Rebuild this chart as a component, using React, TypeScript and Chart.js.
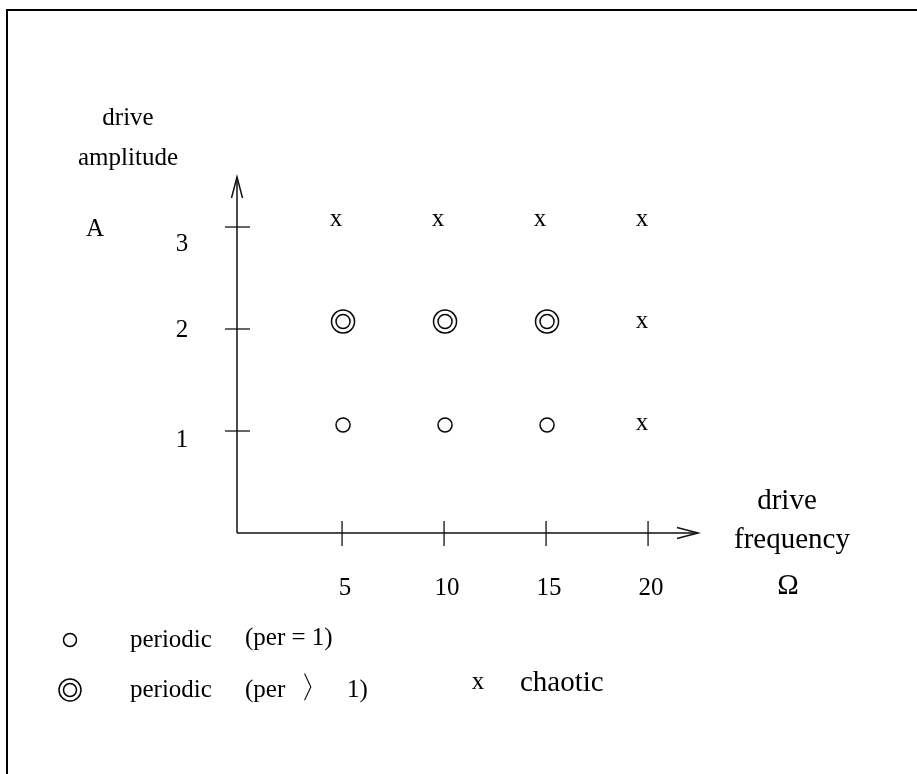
import React, { useEffect, useRef } from "react";
import { Chart, registerables } from "chart.js";

Chart.register(...registerables);

// Parameter grid: drive frequency (Ω) against drive amplitude (A)
const frequencyTicks = [5, 10, 15, 20];
const amplitudeTicks = [1, 2, 3];

const periodOneFreq = [5, 10, 15];
const periodOneAmp = [1, 1, 1];

const periodManyFreq = [5, 10, 15];
const periodManyAmp = [2, 2, 2];

const chaoticFreq = [5, 10, 15, 20, 20, 20];
const chaoticAmp = [3, 3, 3, 3, 2, 1];

const yTitle = ["drive", "amplitude"];
const ySymbol = "A";
const xTitle = ["drive", "frequency", "Ω"];
const seriesLabels = ["periodic", "periodic", "chaotic"];
const periodOneNote = "(per = 1)";
const periodManyNote = ["(per", "〉", "1)"];
const chaoticGlyph = "x";

const FONT = '25px "Liberation Serif", "Times New Roman", serif';
const BIG_FONT = '29px "Liberation Serif", "Times New Roman", serif';
const INK = "#000";

function ring(ctx: CanvasRenderingContext2D, x: number, y: number, r: number) {
  ctx.beginPath();
  ctx.arc(x, y, r, 0, Math.PI * 2);
  ctx.lineWidth = 1.5;
  ctx.strokeStyle = INK;
  ctx.stroke();
}

// Point-style sprites; the glyph sits a little above/left of the grid node
function sprite(dx: number, dy: number, draw: (ctx: CanvasRenderingContext2D) => void) {
  const c = document.createElement("canvas");
  c.width = 48;
  c.height = 48;
  const ctx = c.getContext("2d")!;
  ctx.translate(24 + dx, 24 + dy);
  draw(ctx);
  return c;
}

function drawCross(ctx: CanvasRenderingContext2D, x: number, y: number) {
  ctx.save();
  ctx.font = FONT;
  ctx.fillStyle = INK;
  ctx.textAlign = "center";
  ctx.textBaseline = "alphabetic";
  ctx.fillText(chaoticGlyph, x, y + 5.5);
  ctx.restore();
}

const schematic = {
  id: "schematic",
  afterDraw(chart: Chart) {
    const ctx = chart.ctx;
    const xs = chart.scales.x;
    const ys = chart.scales.y;
    const { left, right, top, bottom } = chart.chartArea;
    ctx.save();

    // frame
    ctx.strokeStyle = INK;
    ctx.lineWidth = 2;
    ctx.beginPath();
    ctx.moveTo(7, chart.height);
    ctx.lineTo(7, 10);
    ctx.lineTo(chart.width, 10);
    ctx.stroke();

    // axes with open arrowheads
    ctx.lineWidth = 1.5;
    ctx.strokeStyle = "#111";
    ctx.beginPath();
    ctx.moveTo(left, bottom);
    ctx.lineTo(left, top + 1);
    ctx.moveTo(left, bottom);
    ctx.lineTo(right + 2, bottom);
    ctx.stroke();
    ctx.beginPath();
    ctx.moveTo(left - 5.5, top + 22);
    ctx.lineTo(left, top + 1);
    ctx.lineTo(left + 5.5, top + 22);
    ctx.moveTo(right - 19, bottom - 5.5);
    ctx.lineTo(right + 2, bottom);
    ctx.lineTo(right - 19, bottom + 5.5);
    ctx.stroke();

    // tick marks and labels (labels hang just below their ticks)
    const labelDrop = [9, 1, 17];
    ctx.font = FONT;
    ctx.fillStyle = INK;
    ctx.textAlign = "center";
    ctx.textBaseline = "middle";
    ctx.lineWidth = 1.3;
    amplitudeTicks.forEach((t, i) => {
      const y = ys.getPixelForValue(t);
      ctx.beginPath();
      ctx.moveTo(left - 12, y);
      ctx.lineTo(left + 13, y);
      ctx.stroke();
      ctx.fillText(String(t), left - 55, y + labelDrop[i]);
    });
    frequencyTicks.forEach((t) => {
      const x = xs.getPixelForValue(t);
      ctx.beginPath();
      ctx.moveTo(x, bottom - 12);
      ctx.lineTo(x, bottom + 13);
      ctx.stroke();
      ctx.fillText(String(t), x + 3, bottom + 55);
    });

    // axis titles
    ctx.textBaseline = "alphabetic";
    ctx.fillText(yTitle[0], 128, 125);
    ctx.fillText(yTitle[1], 128, 165);
    ctx.fillText(ySymbol, 95, 236);
    ctx.font = BIG_FONT;
    ctx.fillText(xTitle[0], 787, 509);
    ctx.fillText(xTitle[1], 792, 548);
    ctx.fillText(xTitle[2], 788, 594);
    ctx.font = FONT;

    // key
    ring(ctx, 70, 640, 6.5);
    ring(ctx, 70, 690, 11);
    ring(ctx, 70, 690, 6.5);
    ctx.textAlign = "left";
    ctx.fillText(seriesLabels[0], 130, 647);
    ctx.fillText(periodOneNote, 245, 645);

    ctx.fillText(seriesLabels[1], 130, 697);
    ctx.fillText(periodManyNote[0], 245, 697);
    ctx.textAlign = "center";
    ctx.font = '31px "Liberation Serif", "DejaVu Serif", serif';
    ctx.fillText(periodManyNote[1], 315, 698);
    ctx.font = FONT;
    ctx.textAlign = "left";
    ctx.fillText(periodManyNote[2], 347, 697);

    drawCross(ctx, 478, 683);
    ctx.textAlign = "left";
    ctx.font = BIG_FONT;
    ctx.fillText(seriesLabels[2], 520, 691);

    ctx.restore();
  },
};

export default function App() {
  const ref = useRef<HTMLCanvasElement>(null);

  useEffect(() => {
    const single = sprite(1, -6, (c) => ring(c, 0, 0, 7));
    const double = sprite(1, -7.5, (c) => {
      ring(c, 0, 0, 11.5);
      ring(c, 0, 0, 7);
    });
    const cross = sprite(-6, -7, (c) => drawCross(c, 0, 0));

    const toPoints = (xs: number[], ys: number[]) => xs.map((x, i) => ({ x, y: ys[i] }));

    const chart = new Chart(ref.current!, {
      type: "scatter",
      data: {
        datasets: [
          { label: "periodic (per = 1)", data: toPoints(periodOneFreq, periodOneAmp), pointStyle: single, pointRadius: 10 },
          { label: "periodic (per > 1)", data: toPoints(periodManyFreq, periodManyAmp), pointStyle: double, pointRadius: 10 },
          { label: "chaotic", data: toPoints(chaoticFreq, chaoticAmp), pointStyle: cross, pointRadius: 10 },
        ],
      },
      options: {
        responsive: false,
        animation: false,
        devicePixelRatio: 1,
        events: [],
        layout: { padding: { left: 237, right: 221, top: 176, bottom: 241 } },
        plugins: { legend: { display: false }, tooltip: { enabled: false } },
        scales: {
          x: { type: "linear", min: -0.15, max: 22.35, display: false },
          y: { type: "linear", min: 0, max: 3.5, display: false },
        },
      },
      plugins: [schematic],
    });
    return () => chart.destroy();
  }, []);

  return (
    <div style={{ position: "absolute", left: 0, top: 0, width: 917, height: 774, background: "#fff" }}>
      <canvas ref={ref} width={917} height={774} />
    </div>
  );
}
